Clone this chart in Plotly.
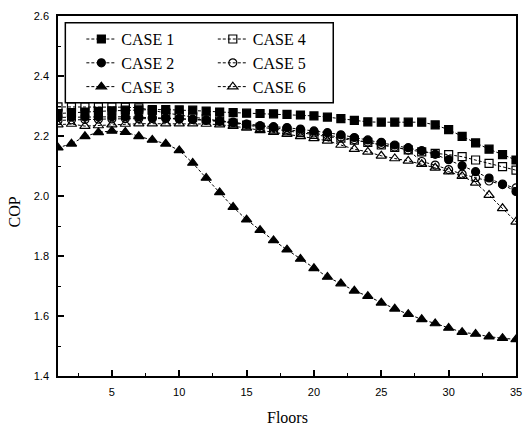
import plotly.graph_objects as go

floors = list(range(1, 36))

case1 = [2.275, 2.278, 2.280, 2.282, 2.284, 2.286, 2.287, 2.288, 2.288, 2.287,
         2.286, 2.283, 2.280, 2.278, 2.276, 2.275, 2.274, 2.272, 2.270, 2.267,
         2.263, 2.258, 2.252, 2.247, 2.246, 2.246, 2.246, 2.246, 2.237, 2.221,
         2.199, 2.177, 2.156, 2.138, 2.120]
case2 = [2.262, 2.263, 2.263, 2.264, 2.264, 2.264, 2.263, 2.262, 2.260, 2.258,
         2.255, 2.252, 2.249, 2.245, 2.239, 2.234, 2.231, 2.228, 2.223, 2.217,
         2.211, 2.204, 2.195, 2.187, 2.179, 2.170, 2.161, 2.151, 2.139, 2.121,
         2.101, 2.081, 2.060, 2.038, 2.015]
case3 = [2.161, 2.174, 2.199, 2.212, 2.217, 2.213, 2.199, 2.187, 2.174, 2.152,
         2.110, 2.060, 2.012, 1.963, 1.921, 1.886, 1.852, 1.821, 1.790, 1.759,
         1.730, 1.708, 1.684, 1.666, 1.644, 1.624, 1.606, 1.589, 1.575, 1.560,
         1.546, 1.540, 1.531, 1.526, 1.522]
case4 = [2.297, 2.297, 2.297, 2.297, 2.297, 2.296, 2.294, 2.285, 2.277, 2.270,
         2.264, 2.257, 2.250, 2.243, 2.236, 2.229, 2.223, 2.217, 2.211, 2.205,
         2.199, 2.193, 2.186, 2.179, 2.170, 2.162, 2.154, 2.147, 2.142, 2.138,
         2.131, 2.120, 2.109, 2.098, 2.086]
case5 = [2.252, 2.254, 2.255, 2.256, 2.257, 2.258, 2.258, 2.258, 2.258, 2.257,
         2.256, 2.254, 2.251, 2.246, 2.240, 2.234, 2.228, 2.222, 2.216, 2.210,
         2.203, 2.196, 2.188, 2.180, 2.172, 2.163, 2.153, 2.115, 2.103, 2.088,
         2.073, 2.061, 2.050, 2.040, 2.027]
case6 = [2.238, 2.240, 2.233, 2.235, 2.238, 2.240, 2.241, 2.241, 2.241, 2.241,
         2.241, 2.240, 2.238, 2.233, 2.227, 2.219, 2.213, 2.206, 2.199, 2.192,
         2.184, 2.170, 2.156, 2.147, 2.134, 2.125, 2.117, 2.106, 2.094, 2.081,
         2.066, 2.044, 2.003, 1.959, 1.914]

series_names = ["CASE 1", "CASE 2", "CASE 3", "CASE 4", "CASE 5", "CASE 6"]
series_values = [case1, case2, case3, case4, case5, case6]
symbols = ["square", "circle", "triangle-up", "square-open", "circle-open", "triangle-up-open"]
sizes = [8, 8, 9, 8, 8, 9]
legends = ["legend", "legend", "legend", "legend2", "legend2", "legend2"]

x_ticks = [5, 10, 15, 20, 25, 30, 35]
y_ticks = [1.4, 1.6, 1.8, 2.0, 2.2, 2.4, 2.6]

fig = go.Figure()
for name, vals, sym, sz, lg in zip(series_names, series_values, symbols, sizes, legends):
    fig.add_trace(go.Scatter(
        x=floors, y=vals, name=name, mode="lines+markers",
        line=dict(color="black", width=1, dash="3px,2px"),
        marker=dict(symbol=sym, size=sz, color="black",
                    line=dict(color="black", width=1.2)),
        legend=lg,
    ))

axis_font = dict(family="Liberation Sans", size=11, color="black")
title_font = dict(family="Liberation Serif", size=16, color="black")
leg_font = dict(family="Liberation Serif", size=16, color="black")

fig.update_layout(
    width=532, height=432,
    margin=dict(l=58, r=10, t=15, b=56),
    paper_bgcolor="white", plot_bgcolor="white",
    showlegend=True,
    legend=dict(x=0.051, y=0.983, xanchor="left", yanchor="top",
                bgcolor="rgba(0,0,0,0)", borderwidth=0, font=leg_font,
                tracegroupgap=0),
    legend2=dict(x=0.338, y=0.983, xanchor="left", yanchor="top",
                 bgcolor="rgba(0,0,0,0)", borderwidth=0, font=leg_font,
                 tracegroupgap=0),
    shapes=[dict(type="rect", xref="paper", yref="paper",
                 x0=0.016, x1=0.601, y0=0.759, y1=0.9814,
                 line=dict(color="black", width=1.5))],
    annotations=[
        dict(text="COP", xref="paper", yref="paper", x=-0.094, y=0.457,
             textangle=-90, showarrow=False, font=title_font,
             xanchor="center", yanchor="middle"),
        dict(text="Floors", xref="paper", yref="paper", x=0.5, y=-0.116,
             showarrow=False, font=title_font, xanchor="center", yanchor="middle"),
    ],
    xaxis=dict(
        range=[1, 35], tickvals=x_ticks, ticks="inside", ticklen=6, tickwidth=1.5,
        tickcolor="black", showline=True, linecolor="black", linewidth=1.5,
        mirror=True, showgrid=False, zeroline=False, tickfont=axis_font,
        ticklabelstandoff=5,
        minor=dict(dtick=2.5, tick0=0, ticks="inside", ticklen=3, tickwidth=1.2,
                   tickcolor="black", showgrid=False),
    ),
    yaxis=dict(
        range=[1.4, 2.6], tickvals=y_ticks, tickformat=".1f", ticks="inside",
        ticklen=6, tickwidth=1.5, tickcolor="black", showline=True,
        linecolor="black", linewidth=1.5, mirror=True, showgrid=False,
        zeroline=False, tickfont=axis_font, ticklabelstandoff=5,
        minor=dict(dtick=0.1, tick0=1.4, ticks="inside", ticklen=3, tickwidth=1.2,
                   tickcolor="black", showgrid=False),
    ),
)

fig.write_html("out.html", config={"displayModeBar": False},
               post_script="document.body.style.margin='0px';")
